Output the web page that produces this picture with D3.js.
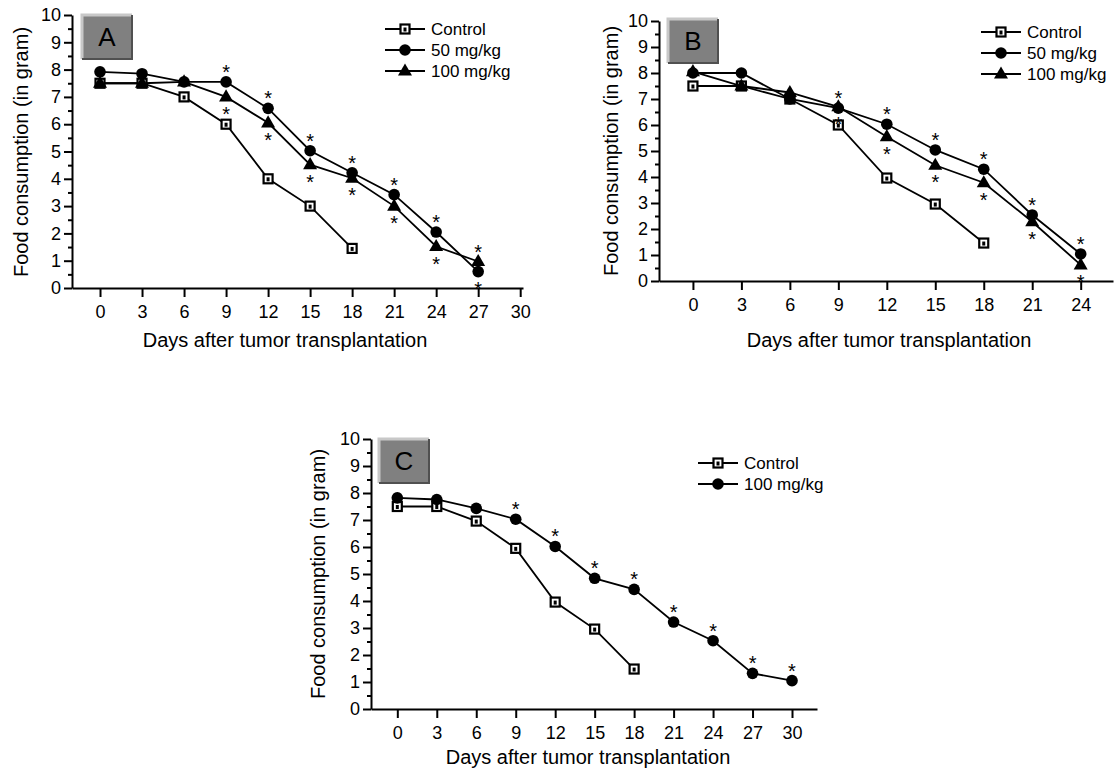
<!DOCTYPE html>
<html>
<head>
<meta charset="utf-8">
<script src="https://cdn.jsdelivr.net/npm/d3@7"></script>
<style>
  body { margin: 0; background: #fff; }
  text { font-family: "Liberation Sans", Arial, sans-serif; fill: #000; }
</style>
</head>
<body>
<svg width="1114" height="774"></svg>
<script>
// data
var daysAB = [0, 3, 6, 9, 12, 15, 18, 21, 24, 27];
var daysC = [0, 3, 6, 9, 12, 15, 18, 21, 24, 27, 30];

var controlA = [7.5, 7.5, 7.0, 6.0, 4.0, 3.0, 1.45];
var dose50A = [7.92, 7.85, 7.55, 7.55, 6.58, 5.03, 4.22, 3.42, 2.05, 0.6];
var dose100A = [7.5, 7.5, 7.55, 7.0, 6.05, 4.52, 4.02, 3.0, 1.52, 0.97];
var star50A = ["", "", "", "up", "up", "up", "up", "up", "up", "down"];
var star100A = ["", "", "", "down", "down", "down", "down", "down", "down", "up"];

var controlB = [7.5, 7.5, 7.0, 6.0, 3.96, 2.96, 1.46];
var dose50B = [8.0, 8.0, 7.0, 6.65, 6.03, 5.04, 4.3, 2.54, 1.04];
var dose100B = [8.05, 7.5, 7.25, 6.7, 5.55, 4.45, 3.78, 2.28, 0.62];
var star50B = ["", "", "", "up", "up", "up", "up", "up", "up"];
var star100B = ["", "", "", "down", "down", "down", "down", "down", "down"];

var controlC = [7.5, 7.5, 6.96, 5.95, 3.96, 2.96, 1.48];
var dose100C = [7.82, 7.76, 7.43, 7.03, 6.02, 4.84, 4.43, 3.22, 2.53, 1.32, 1.05];
var star100C = ["", "", "", "up", "up", "up", "up", "up", "up", "up", "up"];

var xTicksA = [0, 3, 6, 9, 12, 15, 18, 21, 24, 27, 30];
var xTicksB = [0, 3, 6, 9, 12, 15, 18, 21, 24];
var xTicksC = [0, 3, 6, 9, 12, 15, 18, 21, 24, 27, 30];
var yTicks = [0, 1, 2, 3, 4, 5, 6, 7, 8, 9, 10];
var yMinor = d3.range(0.5, 10, 1);

var svg = d3.select("svg");

function marker(g, type, x, y) {
  if (type == "square") {
    g.append("rect")
      .attr("x", x - 4.5).attr("y", y - 4.5)
      .attr("width", 9).attr("height", 9)
      .attr("fill", "#fff").attr("stroke", "#000").attr("stroke-width", 2.2);
    g.append("rect")
      .attr("x", x - 1.5).attr("y", y - 1.5)
      .attr("width", 3).attr("height", 4)
      .attr("fill", "#000");
  } else if (type == "circle") {
    g.append("circle").attr("cx", x).attr("cy", y).attr("r", 5.8).attr("fill", "#000");
  } else {
    g.append("path")
      .attr("d", d3.symbol().type(d3.symbolTriangle).size(85)())
      .attr("transform", "translate(" + x + "," + (y + 0.5) + ")")
      .attr("fill", "#000");
  }
}

function drawPanel(p) {
  var x = d3.scaleLinear().domain(p.xDomain).range(p.xRange);
  var y = d3.scaleLinear().domain([0, 10]).range(p.yRange);
  var g = svg.append("g");

  // minor y ticks
  g.append("g")
    .attr("transform", "translate(" + p.xRange[0] + ",0)")
    .call(d3.axisLeft(y).tickValues(yMinor).tickSize(4).tickFormat(""))
    .call(function(a) { a.select(".domain").remove(); a.selectAll("line").attr("stroke-width", 2); });

  // y axis
  g.append("g")
    .attr("transform", "translate(" + p.xRange[0] + ",0)")
    .call(d3.axisLeft(y).tickValues(yTicks).tickSize(8).tickSizeOuter(0).tickPadding(3))
    .call(function(a) {
      a.select(".domain").attr("stroke-width", 2);
      a.selectAll("line").attr("stroke-width", 2);
      a.selectAll("text").attr("font-size", 18).attr("font-family", "Liberation Sans, Arial, sans-serif");
    });

  // x axis
  g.append("g")
    .attr("transform", "translate(0," + p.yRange[0] + ")")
    .call(d3.axisBottom(x).tickValues(p.xTicks).tickSize(9).tickSizeOuter(0).tickPadding(8))
    .call(function(a) {
      a.select(".domain").attr("stroke-width", 2);
      a.selectAll("line").attr("stroke-width", 2);
      a.selectAll("text").attr("font-size", 18).attr("font-family", "Liberation Sans, Arial, sans-serif");
    });

  // axis titles
  g.append("text")
    .attr("x", p.xTitle[0]).attr("y", p.xTitle[1])
    .attr("text-anchor", "middle").attr("font-size", 20)
    .text("Days after tumor transplantation");
  g.append("text")
    .attr("transform", "translate(" + p.yTitle[0] + "," + p.yTitle[1] + ") rotate(-90)")
    .attr("text-anchor", "middle").attr("font-size", 20)
    .text("Food consumption (in gram)");

  // lines, then markers and asterisks
  var line = d3.line().x(function(d) { return x(d[0]); }).y(function(d) { return y(d[1]); });
  p.series.forEach(function(s) {
    var pts = s.values.map(function(v, i) { return [p.days[i], v]; });
    g.append("path").attr("d", line(pts))
      .attr("fill", "none").attr("stroke", "#000").attr("stroke-width", 1.8);
  });
  p.series.forEach(function(s) {
    s.values.forEach(function(v, i) {
      var px = x(p.days[i]), py = y(v);
      marker(g, s.type, px, py);
      var st = s.stars ? s.stars[i] : "";
      if (st) {
        g.append("text")
          .attr("x", px).attr("y", st == "up" ? py - 3 : py + 24)
          .attr("text-anchor", "middle").attr("font-size", 20)
          .text("*");
      }
    });
  });

  // legend
  p.series.forEach(function(s, i) {
    var ly = p.legend[1] + i * 21;
    g.append("line")
      .attr("x1", p.legend[0]).attr("x2", p.legend[0] + 40)
      .attr("y1", ly).attr("y2", ly)
      .attr("stroke", "#000").attr("stroke-width", 1.8);
    marker(g, s.type, p.legend[0] + 20, ly);
    g.append("text")
      .attr("x", p.legend[0] + 46).attr("y", ly + 6)
      .attr("font-size", 17)
      .text(s.name);
  });

  // panel letter box with bevel
  var b = p.box, bw = 50, bh = 44;
  g.append("rect").attr("x", b[0]).attr("y", b[1]).attr("width", bw).attr("height", bh).attr("fill", "#808080");
  g.append("path")
    .attr("d", "M" + b[0] + "," + (b[1] + bh) + "V" + b[1] + "H" + (b[0] + bw))
    .attr("fill", "none").attr("stroke", "#c8c8c8").attr("stroke-width", 3);
  g.append("path")
    .attr("d", "M" + b[0] + "," + (b[1] + bh) + "H" + (b[0] + bw) + "V" + b[1])
    .attr("fill", "none").attr("stroke", "#505050").attr("stroke-width", 2);
  g.append("text")
    .attr("x", b[0] + bw / 2).attr("y", b[1] + bh / 2 + 9)
    .attr("text-anchor", "middle").attr("font-size", 26)
    .text(p.letter);
}

drawPanel({
  letter: "A", days: daysAB, xTicks: xTicksA,
  xDomain: [-2, 30.2], xRange: [72, 523], yRange: [288, 15],
  xTitle: [285, 347], yTitle: [28, 152], legend: [385, 29], box: [82, 15],
  series: [
    { name: "Control", type: "square", values: controlA },
    { name: "50 mg/kg", type: "circle", values: dose50A, stars: star50A },
    { name: "100 mg/kg", type: "triangle", values: dose100A, stars: star100A }
  ]
});

drawPanel({
  letter: "B", days: daysAB, xTicks: xTicksB,
  xDomain: [-2.1, 26], xRange: [659, 1113], yRange: [281, 21],
  xTitle: [889, 347], yTitle: [618, 151], legend: [981, 32], box: [668, 19],
  series: [
    { name: "Control", type: "square", values: controlB },
    { name: "50 mg/kg", type: "circle", values: dose50B, stars: star50B },
    { name: "100 mg/kg", type: "triangle", values: dose100B, stars: star100B }
  ]
});

drawPanel({
  letter: "C", days: daysC, xTicks: xTicksC,
  xDomain: [-2, 31.9], xRange: [371, 817], yRange: [709, 439],
  xTitle: [588, 764], yTitle: [325, 574], legend: [698, 463], box: [379, 439],
  series: [
    { name: "Control", type: "square", values: controlC },
    { name: "100 mg/kg", type: "circle", values: dose100C, stars: star100C }
  ]
});
</script>
</body>
</html>
